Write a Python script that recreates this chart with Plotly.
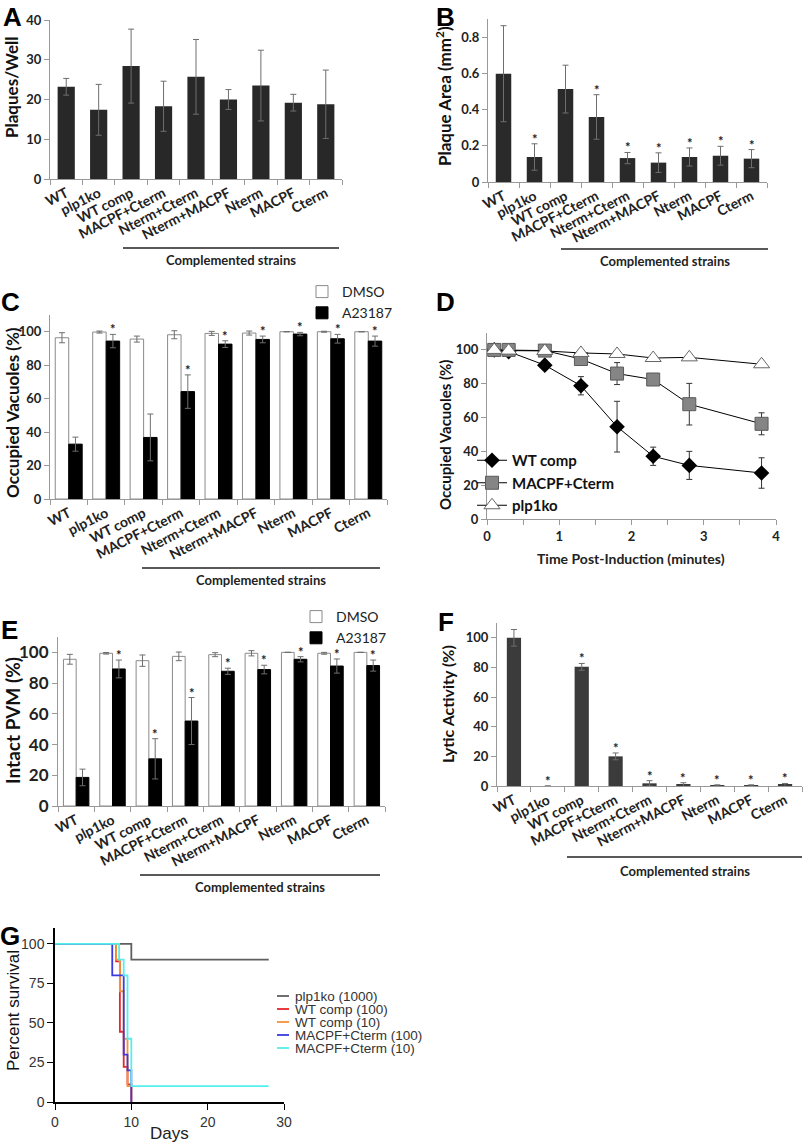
import plotly.graph_objects as go

W, H = 805, 1142

# ---------------- data ----------------
strains = ["WT", "plp1ko", "WT comp", "MACPF+Cterm", "Nterm+Cterm",
           "Nterm+MACPF", "Nterm", "MACPF", "Cterm"]

# A: plaques per well
plaques_mean = [23.2, 17.4, 28.4, 18.3, 25.7, 20.0, 23.5, 19.2, 18.8]
plaques_err = [2.1, 6.4, 9.3, 6.3, 9.4, 2.5, 8.9, 2.1, 8.6]

# B: plaque area (mm2)
area_mean = [0.598, 0.138, 0.513, 0.359, 0.132, 0.107, 0.138, 0.145, 0.129]
area_err = [0.265, 0.073, 0.132, 0.123, 0.031, 0.054, 0.050, 0.052, 0.050]
area_sig = [False, True, False, True, True, True, True, True, True]

# C: occupied vacuoles (%)
occ_dmso = [96.4, 99.8, 95.6, 98.2, 99.0, 99.2, 100.0, 100.0, 100.0]
occ_dmso_err = [3.0, 0.6, 1.8, 2.4, 1.2, 1.2, 0.0, 0.3, 0.0]
occ_a23 = [32.8, 94.4, 36.8, 64.2, 92.6, 95.4, 98.6, 95.8, 94.4]
occ_a23_err = [4.2, 4.0, 14.0, 10.0, 2.0, 2.0, 1.0, 2.6, 3.0]
occ_sig = [False, True, False, True, True, True, True, True, True]

# D: time course
time_min = [0.1, 0.3, 0.8, 1.3, 1.8, 2.3, 2.8, 3.8]
d_wtcomp = [100, 99, 91, 78.8, 54.6, 37.1, 31.7, 27.2]
d_wtcomp_err = [0.5, 2.0, 1.5, 5.4, 15.0, 5.4, 8.3, 9.0]
d_macpf = [100, 100, 99.6, 94.6, 86.0, 82.5, 67.9, 56.3]
d_macpf_err = [0.5, 0.5, 1.0, 1.5, 6.5, 2.0, 12.3, 6.5]
d_plp1ko = [100, 99.6, 99.4, 98.2, 97.6, 95.2, 95.6, 91.5]
d_plp1ko_err = [0.3, 1.0, 0.5, 1.0, 0.8, 1.0, 1.0, 1.0]

# E: intact PVM (%)
pvm_dmso = [95.5, 99.4, 94.6, 97.4, 98.5, 99.4, 100.0, 99.4, 100.0]
pvm_dmso_err = [3.2, 0.5, 3.7, 2.8, 1.3, 1.7, 0.0, 0.6, 0.0]
pvm_a23 = [18.6, 89.2, 30.7, 55.3, 87.7, 88.8, 95.5, 91.1, 91.4]
pvm_a23_err = [5.4, 5.8, 13.1, 15.3, 2.0, 2.8, 1.7, 4.6, 3.6]
pvm_sig = [False, True, True, True, True, True, True, True, True]

# F: lytic activity (%)
lytic = [100.0, 0.0, 80.4, 20.0, 1.8, 0.9, 0.4, 0.4, 0.7]
lytic_err = [5.6, 0.0, 2.3, 2.3, 1.8, 1.3, 0.4, 0.4, 1.0]
lytic_sig = [False, True, True, True, True, True, True, True, True]

# G: survival
g_names = ["plp1ko (1000)", "WT comp (100)", "WT comp (10)",
           "MACPF+Cterm (100)", "MACPF+Cterm (10)"]
g_days = [[0, 10, 28],
          [0, 8, 8.5, 9, 9.5, 10],
          [0, 8, 8.5, 9, 9.5, 10],
          [0, 7.5, 9, 9.5, 10],
          [0, 8.4, 9, 9.5, 10, 28]]
g_surv = [[100, 90, 90],
          [100, 88.9, 44.4, 22.2, 11.1, 0],
          [100, 90, 70, 40, 10, 0],
          [100, 80, 30, 20, 0],
          [100, 90, 80, 40, 10, 10]]
g_colors = ["#5f5f5f", "#e8262a", "#f39238", "#3a3ae0", "#55eef0"]

# ---------------- helpers ----------------
EXCEL_FONT = "Lato, 'Open Sans', sans-serif"
ARIAL = "'Liberation Sans', Arial, sans-serif"


def xd(a, b):
    return [a / W, b / W]


def yd(top, bottom):
    return [1 - bottom / H, 1 - top / H]


fig = go.Figure()
annotations = []
shapes = []

panels = {
    "A": dict(x=(50, 342), y=(20, 179)),
    "B": dict(x=(488, 767), y=(19, 182)),
    "C": dict(x=(50, 387), y=(315, 499)),
    "D": dict(x=(487, 776), y=(333, 519)),
    "E": dict(x=(58, 385), y=(637, 806)),
    "F": dict(x=(497, 802), y=(623, 786)),
    "G": dict(x=(55, 284), y=(928, 1102)),
}
axis_ids = {"A": "", "B": "2", "C": "3", "D": "4", "E": "5", "F": "6", "G": "7"}

tickfont = dict(family=EXCEL_FONT, size=13, color="#222", weight="bold")
catfont = dict(family=EXCEL_FONT, size=14, color="#222", weight="bold")


def cat_xaxis(p):
    return dict(domain=xd(*panels[p]["x"]), anchor="y" + axis_ids[p],
                type="category", tickson="boundaries", ticks="outside",
                ticklen=5, tickcolor="#999", showline=True, linecolor="#999",
                linewidth=1, showgrid=False, zeroline=False, tickangle=-27,
                tickfont=catfont, fixedrange=True)


def num_yaxis(p, rng, dtick):
    return dict(domain=yd(*panels[p]["y"]), anchor="x" + axis_ids[p],
                range=rng, dtick=dtick, ticks="outside", ticklen=5,
                tickcolor="#999", showline=True, linecolor="#999",
                linewidth=1, showgrid=False, zeroline=False,
                tickfont=tickfont, fixedrange=True)


def ytitle(text, x, y, size=17, font=EXCEL_FONT, weight="bold"):
    annotations.append(dict(text=text, xref="paper", yref="paper",
                            x=x / W, y=1 - y / H, showarrow=False,
                            textangle=-90, xanchor="center", yanchor="middle",
                            font=dict(family=font, size=size, color="#111",
                                      weight=weight)))


def letter(text, x, y, anchor="middle"):
    annotations.append(dict(text=text, xref="paper", yref="paper",
                            x=x / W, y=1 - y / H, showarrow=False,
                            xanchor="center", yanchor=anchor,
                            font=dict(family=ARIAL, size=26, color="#000",
                                      weight="bold")))


def complemented(x0, x1, yline, ytext):
    shapes.append(dict(type="line", xref="paper", yref="paper",
                       x0=x0 / W, x1=x1 / W, y0=1 - yline / H, y1=1 - yline / H,
                       line=dict(color="#222", width=1.3)))
    annotations.append(dict(text="Complemented strains", xref="paper",
                            yref="paper", x=(x0 + x1) / 2 / W, y=1 - ytext / H,
                            showarrow=False, xanchor="center", yanchor="middle",
                            font=dict(family=EXCEL_FONT, size=13,
                                      color="#222", weight="bold")))


def stars(p, sig, vals, errs, xshift=0.0):
    for s, v, e, c in zip(sig, vals, errs, strains):
        if s:
            annotations.append(dict(text="*", xref="x" + axis_ids[p],
                                    yref="y" + axis_ids[p], x=c, y=v + e,
                                    showarrow=False, xanchor="center",
                                    yanchor="bottom", xshift=xshift, yshift=-5,
                                    font=dict(family=EXCEL_FONT, size=13,
                                              color="#222", weight="bold")))


err_style = dict(type="data", visible=True, color="#6e6e6e", thickness=1, width=3)

# ---------------- A ----------------
fig.add_trace(go.Bar(x=strains, y=plaques_mean, width=0.53,
                     marker=dict(color="#282828", line=dict(width=0)),
                     error_y=dict(array=plaques_err, **err_style),
                     xaxis="x", yaxis="y", showlegend=False))
# ---------------- B ----------------
fig.add_trace(go.Bar(x=strains, y=area_mean, width=0.5,
                     marker=dict(color="#2a2a2a", line=dict(width=0)),
                     error_y=dict(array=area_err, **err_style),
                     xaxis="x2", yaxis="y2", showlegend=False))
stars("B", area_sig, area_mean, area_err)

# ---------------- C ----------------
wC = 0.36
fig.add_trace(go.Bar(x=strains, y=occ_dmso, width=wC, offset=-wC, name="DMSO",
                     marker=dict(color="white", line=dict(color="#8a8a8a", width=1)),
                     error_y=dict(array=occ_dmso_err, **err_style),
                     xaxis="x3", yaxis="y3", legend="legend"))
fig.add_trace(go.Bar(x=strains, y=occ_a23, width=wC, offset=0, name="A23187",
                     marker=dict(color="#000", line=dict(color="#000", width=1)),
                     error_y=dict(array=occ_a23_err, **err_style),
                     xaxis="x3", yaxis="y3", legend="legend"))
catC = (panels["C"]["x"][1] - panels["C"]["x"][0]) / len(strains)
stars("C", occ_sig, occ_a23, occ_a23_err, xshift=catC * wC / 2)

# ---------------- D ----------------
d_err = dict(type="data", visible=True, color="#333", thickness=1, width=3)
fig.add_trace(go.Scatter(x=time_min, y=d_wtcomp, name="WT comp",
                         mode="lines+markers",
                         line=dict(color="#000", width=1),
                         marker=dict(symbol="diamond", size=12, color="#000"),
                         error_y=dict(array=d_wtcomp_err, **d_err),
                         xaxis="x4", yaxis="y4", legend="legend2"))
fig.add_trace(go.Scatter(x=time_min, y=d_macpf, name="MACPF+Cterm",
                         mode="lines+markers",
                         line=dict(color="#000", width=1),
                         marker=dict(symbol="square", size=13, color="#858585",
                                     line=dict(color="#5a5a5a", width=1)),
                         error_y=dict(array=d_macpf_err, **d_err),
                         xaxis="x4", yaxis="y4", legend="legend2"))
fig.add_trace(go.Scatter(x=time_min, y=d_plp1ko, name="plp1ko",
                         mode="lines+markers",
                         line=dict(color="#000", width=1),
                         marker=dict(symbol="triangle-up", size=14, color="white",
                                     line=dict(color="#666", width=1)),
                         error_y=dict(array=d_plp1ko_err, **d_err),
                         xaxis="x4", yaxis="y4", legend="legend2"))

# ---------------- E ----------------
wE = 0.35
fig.add_trace(go.Bar(x=strains, y=pvm_dmso, width=wE, offset=-wE, name="DMSO",
                     marker=dict(color="white", line=dict(color="#8a8a8a", width=1)),
                     error_y=dict(array=pvm_dmso_err, **err_style),
                     xaxis="x5", yaxis="y5", legend="legend3"))
fig.add_trace(go.Bar(x=strains, y=pvm_a23, width=wE, offset=0, name="A23187",
                     marker=dict(color="#000", line=dict(color="#000", width=1)),
                     error_y=dict(array=pvm_a23_err, **err_style),
                     xaxis="x5", yaxis="y5", legend="legend3"))
catE = (panels["E"]["x"][1] - panels["E"]["x"][0]) / len(strains)
stars("E", pvm_sig, pvm_a23, pvm_a23_err, xshift=catE * wE / 2)

# ---------------- F ----------------
fig.add_trace(go.Bar(x=strains, y=lytic, width=0.42,
                     marker=dict(color="#3b3b3b", line=dict(width=0)),
                     error_y=dict(array=lytic_err, **err_style),
                     xaxis="x6", yaxis="y6", showlegend=False))
stars("F", lytic_sig, lytic, lytic_err)

# ---------------- G ----------------
for name, dd, ss, col in zip(g_names, g_days, g_surv, g_colors):
    fig.add_trace(go.Scatter(x=dd, y=ss, name=name, mode="lines",
                             line=dict(color=col, width=1.8, shape="hv"),
                             xaxis="x7", yaxis="y7", showlegend=False))

# compact legend for G (rows 13 px apart, as in the original)
g_leg_y0, g_leg_dy = 996, 13
for i, (name, col) in enumerate(zip(g_names, g_colors)):
    yy = 1 - (g_leg_y0 + i * g_leg_dy) / H
    shapes.append(dict(type="line", xref="paper", yref="paper",
                       x0=277 / W, x1=289 / W, y0=yy, y1=yy,
                       line=dict(color=col, width=1.8)))
    annotations.append(dict(text=name, xref="paper", yref="paper",
                            x=293 / W, y=yy, showarrow=False, xanchor="left",
                            yanchor="middle",
                            font=dict(family=ARIAL, size=13.5, color="#333")))

# ---------------- layout ----------------
layout = dict(
    width=W, height=H, margin=dict(l=0, r=0, t=0, b=0, autoexpand=False),
    paper_bgcolor="white", plot_bgcolor="white", barmode="overlay",
    xaxis=cat_xaxis("A"), yaxis=num_yaxis("A", [0, 40], 10),
    xaxis2=cat_xaxis("B"), yaxis2=num_yaxis("B", [0, 0.9], 0.2),
    xaxis3=cat_xaxis("C"), yaxis3=num_yaxis("C", [0, 110], 20),
    xaxis5=cat_xaxis("E"), yaxis5=num_yaxis("E", [0, 110], 20),
    xaxis6=cat_xaxis("F"), yaxis6=num_yaxis("F", [0, 110], 20),
)
layout["yaxis2"]["tickvals"] = [0, 0.2, 0.4, 0.6, 0.8]
layout["yaxis2"]["ticktext"] = ["0", "0.2", "0.4", "0.6", "0.8"]
layout["yaxis5"]["tickfont"] = dict(family=EXCEL_FONT, size=17, color="#222", weight="bold")

layout["xaxis4"] = dict(domain=xd(*panels["D"]["x"]), anchor="y4", range=[0, 4],
                        dtick=1, ticks="outside", ticklen=5, tickcolor="#999",
                        showline=True, linecolor="#999", showgrid=False,
                        zeroline=False, tickfont=tickfont,
                        minor=dict(dtick=0.5, ticks="outside", ticklen=5,
                                   tickcolor="#999", showgrid=False))
layout["yaxis4"] = num_yaxis("D", [0, 110], 20)

gfont = dict(family=ARIAL, size=14, color="#333")
layout["xaxis7"] = dict(domain=xd(*panels["G"]["x"]), anchor="y7", range=[0, 30],
                        dtick=10, ticks="outside", ticklen=6, tickcolor="#000",
                        showline=True, linecolor="#000", linewidth=1.5,
                        showgrid=False, zeroline=False, tickfont=gfont)
layout["yaxis7"] = dict(domain=yd(*panels["G"]["y"]), anchor="x7", range=[0, 110],
                        tickvals=[0, 25, 50, 75, 100], ticks="outside", ticklen=6,
                        tickcolor="#000", showline=True, linecolor="#000",
                        linewidth=1.5, showgrid=False, zeroline=False,
                        tickfont=gfont)

layout["legend"] = dict(x=302 / W, y=1 - 276 / H, xanchor="left", yanchor="top",
                        font=dict(family=EXCEL_FONT, size=14, color="#222"),
                        bgcolor="rgba(0,0,0,0)", itemwidth=30, tracegroupgap=0)
layout["legend2"] = dict(x=472 / W, y=1 - 444 / H, xanchor="left", yanchor="top",
                         font=dict(family=EXCEL_FONT, size=15, color="#111",
                                   weight="bold"),
                         bgcolor="rgba(0,0,0,0)", itemwidth=30)
layout["legend3"] = dict(x=296 / W, y=1 - 601 / H, xanchor="left", yanchor="top",
                         font=dict(family=EXCEL_FONT, size=14, color="#222"),
                         bgcolor="rgba(0,0,0,0)", itemwidth=30)

fig.update_layout(**layout)

# axis titles
ytitle("Plaques/Well", 12, 88, size=17)
ytitle("Plaque Area (mm<sup>2</sup>)", 443, 96, size=17)
ytitle("Occupied Vacuoles (%)", 12, 413, size=17)
ytitle("Occupied Vacuoles (%)", 445, 435, size=15)
ytitle("Intact PVM (%)", 12, 721, size=19)
ytitle("Lytic Activity (%)", 447, 704, size=16)
ytitle("Percent survival", 13, 1011, size=17, font=ARIAL, weight="normal")
annotations.append(dict(text="Time Post-Induction (minutes)", xref="paper",
                        yref="paper", x=631 / W, y=1 - 558 / H, showarrow=False,
                        xanchor="center", yanchor="middle",
                        font=dict(family=EXCEL_FONT, size=14, color="#222",
                                  weight="bold")))
annotations.append(dict(text="Days", xref="paper", yref="paper", x=169 / W,
                        y=1 - 1133 / H, showarrow=False, xanchor="center",
                        yanchor="middle",
                        font=dict(family=ARIAL, size=17, color="#222")))

# panel letters
letter("A", 12, 0, anchor="top")
letter("B", 446, 0, anchor="top")
for t, (lx, ly) in {"C": (10, 302), "D": (446, 302), "E": (9, 630),
                    "F": (446, 622), "G": (10, 936)}.items():
    letter(t, lx, ly)

# complemented strains brackets
complemented(123, 339, 248, 260)
complemented(561, 768, 249, 261)
complemented(142, 380, 568, 580)
complemented(140, 380, 875, 887)
complemented(567, 802, 857, 871)

fig.update_layout(annotations=annotations, shapes=shapes)
fig.write_html("out.html", config={"displayModeBar": False},
               post_script="document.body.style.margin='0';")
